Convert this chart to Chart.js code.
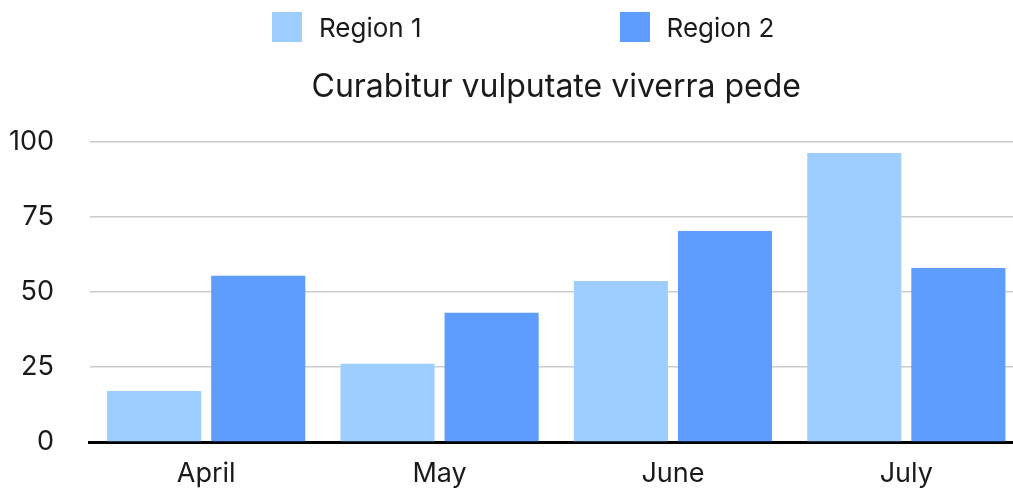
<!DOCTYPE html>
<html>
<head>
<meta charset="utf-8">
<script src="https://cdn.jsdelivr.net/npm/chart.js@4"></script>
<style>
  html, body { margin: 0; padding: 0; background: #fff; overflow: hidden; }
  #wrap { position: relative; width: 1023px; height: 490px; }
  #legend { position: absolute; top: 12px; left: 272px; display: flex; font-family: Inter, sans-serif; font-size: 26px; color: #1a1a1a; }
  .item { display: flex; align-items: center; height: 30px; }
  .box { width: 30px; height: 30px; margin-right: 17px; }
</style>
</head>
<body>
<div id="wrap">
  <div id="legend"></div>
  <canvas id="mybarchart" width="1023" height="490"></canvas>
</div>
<script>
var months = ['April', 'May', 'June', 'July'];
var region1 = [17, 26, 53.6, 96.1];
var region2 = [55.3, 43, 70.2, 57.9];
var yTicks = [0, 25, 50, 75, 100];
var seriesNames = ['Region 1', 'Region 2'];
var seriesColors = ['rgb(158, 206, 255)', 'rgb(94, 157, 253)'];

var barCanvas = document.getElementById("mybarchart");

var bar_data = {
  labels: months,
  datasets: [{
    label: seriesNames[0],
    data: region1,
    backgroundColor: seriesColors[0]
  }, {
    label: seriesNames[1],
    data: region2,
    backgroundColor: seriesColors[1]
  }]
};

var mybarchart = new Chart(barCanvas, {
  type: 'bar',
  data: bar_data,
  options: {
    responsive: false,
    animation: false,
    categoryPercentage: 0.892,
    barPercentage: 0.904,
    layout: {
      padding: 0
    },
    plugins: {
      legend: { display: false },
      tooltip: { enabled: false },
      title: {
        display: true,
        text: 'Curabitur vulputate viverra pede',
        fullSize: false,
        color: '#1a1a1a',
        font: { family: 'Inter', size: 32, weight: 'normal' },
        padding: { top: 68, bottom: 35 }
      }
    },
    scales: {
      x: {
        afterFit: function (axis) { axis.height = 48; }, // axis line at y=442
        grid: { display: false, drawTicks: false },
        border: { display: true, color: '#000', width: 3 },
        ticks: {
          color: '#1a1a1a',
          padding: 16,
          font: { family: 'Inter', size: 27 }
        }
      },
      y: {
        min: 0,
        max: 100,
        afterBuildTicks: function (axis) {
          axis.ticks = yTicks.map(function (v) { return { value: v }; });
        },
        afterFit: function (axis) {
          axis.width = 89.5;
          // the big tick padding should not push the plot area up
          axis.paddingTop = 16;
          axis.paddingBottom = 16;
        },
        grid: { color: '#cccccc', lineWidth: 1.5, drawTicks: false },
        border: { display: false },
        ticks: {
          color: '#1a1a1a',
          padding: 35.5,
          font: { family: 'Inter', size: 27 }
        }
      }
    }
  }
});

// html legend from the datasets
var legendEl = document.getElementById('legend');
mybarchart.data.datasets.forEach(function (ds, i) {
  var item = document.createElement('div');
  item.className = 'item';
  if (i > 0) item.style.marginLeft = '198px';
  var box = document.createElement('span');
  box.className = 'box';
  box.style.background = ds.backgroundColor;
  var txt = document.createElement('span');
  txt.textContent = ds.label;
  item.appendChild(box);
  item.appendChild(txt);
  legendEl.appendChild(item);
});
</script>
</body>
</html>
